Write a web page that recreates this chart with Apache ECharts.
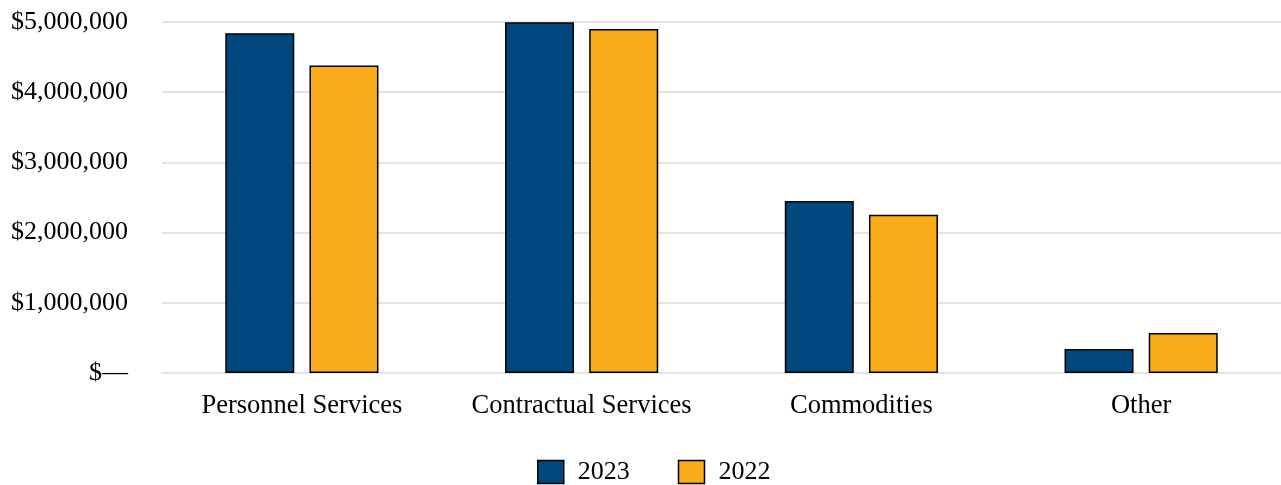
<!DOCTYPE html>
<html><head><meta charset="utf-8">
<script src="https://cdn.jsdelivr.net/npm/echarts@6/dist/echarts.min.js"></script>
<style>html,body{margin:0;padding:0;background:#fff}#c{width:1281px;height:485px}</style>
</head><body><div id="c"></div>
<script>
const categories = ['Personnel Services', 'Contractual Services', 'Commodities', 'Other'];
const values2023 = [4840000, 4995000, 2450000, 342000];
const values2022 = [4380000, 4900000, 2255000, 570000];
const yTicks = [0, 1000000, 2000000, 3000000, 4000000, 5000000];

const chart = echarts.init(document.getElementById('c'));
const font = '"Liberation Serif", "Times New Roman", serif';
chart.setOption({
  animation: false,
  textStyle: { fontFamily: font },
  grid: { left: 162, right: 0, top: 22, bottom: 112 },
  legend: {
    top: 459, left: 537, padding: 0, itemWidth: 26, itemHeight: 23, itemGap: 48,
    icon: 'rect',
    itemStyle: { borderColor: '#000', borderWidth: 1.5 },
    textStyle: { fontFamily: font, fontSize: 26, color: '#000', padding: [0, 0, 0, 9] },
    data: ['2023', '2022']
  },
  xAxis: {
    type: 'category', data: categories,
    axisTick: { show: false },
    axisLine: { lineStyle: { color: '#e3e3e3', width: 2 } },
    axisLabel: { fontFamily: font, fontSize: 26.5, color: '#000', margin: 20, interval: 0 }
  },
  yAxis: {
    type: 'value', min: 0, max: 5000000, interval: 1000000,
    axisLine: { show: false }, axisTick: { show: false },
    splitLine: { lineStyle: { color: '#e3e3e3', width: 2 } },
    axisLabel: {
      fontFamily: font, fontSize: 26, color: '#000', margin: 34,
      formatter: v => v === 0 ? '$\u2014' : '$' + v.toLocaleString('en-US')
    }
  },
  series: [
    { name: '2023', type: 'bar', data: values2023, barWidth: 69, barGap: '22%',
      itemStyle: { color: '#00477d', borderColor: '#000', borderWidth: 1.5 } },
    { name: '2022', type: 'bar', data: values2022, barWidth: 69,
      itemStyle: { color: '#f9ab1a', borderColor: '#000', borderWidth: 1.5 } }
  ]
});
</script></body></html>
